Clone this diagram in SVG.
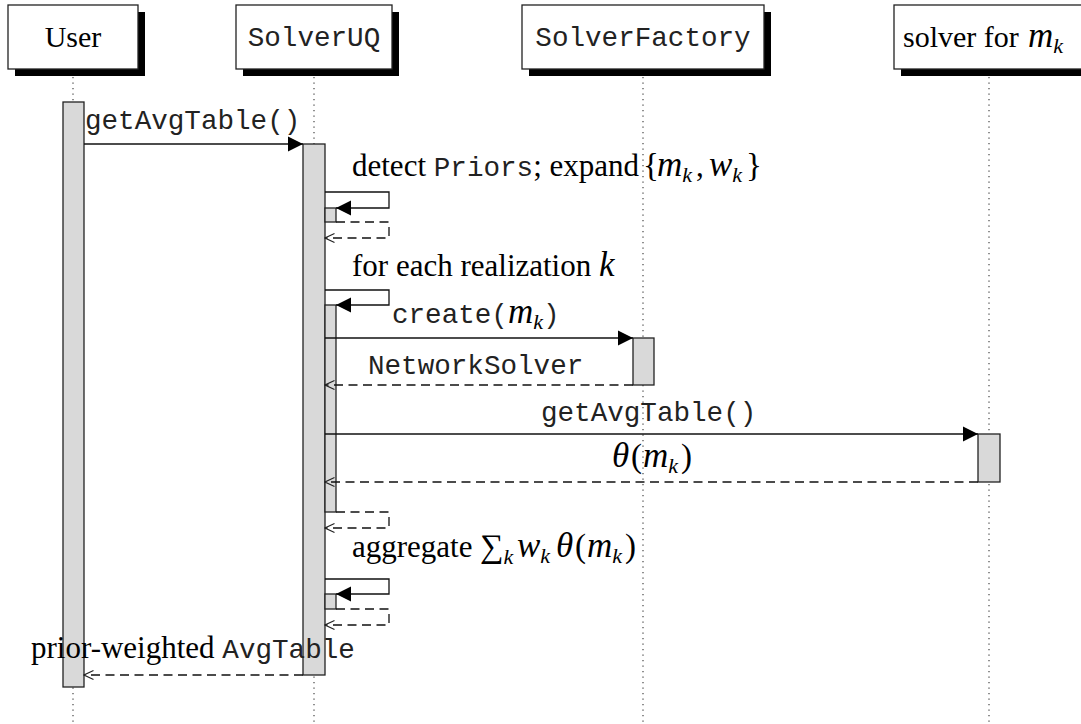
<svg xmlns="http://www.w3.org/2000/svg" width="1081" height="724" viewBox="0 0 1081 724">
  <style>
    .box { fill: #fff; stroke: #222; stroke-width: 1.3; }
    .shadow { fill: #000; }
    .life { stroke: #333; stroke-width: 1.1; stroke-dasharray: 1.2 4.3; fill: none; }
    .act { fill: #d9d9d9; stroke: #222; stroke-width: 1.3; }
    .call { fill: none; stroke: #111; stroke-width: 1.3; marker-end: url(#solid); }
    .ret { fill: none; stroke: #111; stroke-width: 1.3; stroke-dasharray: 9 5.5; marker-end: url(#open); }
    .rm { font-family: "Liberation Serif", "Times New Roman", serif; font-size: 31px; fill: #000; }
    .hd { font-size: 30px; }
    .tt { font-family: "Liberation Mono", "Courier New", monospace; font-size: 27.6px; fill: #222; }
    .mi { font-family: "Liberation Serif", "Times New Roman", serif; font-style: italic; font-size: 35px; fill: #000; }
    .sub { font-size: 22px; }
    .big { font-family: "Liberation Serif", "Times New Roman", serif; font-size: 33px; }
  </style>
  <defs>
    <marker id="solid" viewBox="0 0 16 16" refX="15" refY="8" markerWidth="16" markerHeight="16" markerUnits="userSpaceOnUse" orient="auto">
      <path d="M0,0.5 L15,8 L0,15.5 z" fill="#000"/>
    </marker>
    <marker id="open" viewBox="0 0 12 12" refX="11" refY="6" markerWidth="12" markerHeight="12" markerUnits="userSpaceOnUse" orient="auto">
      <path d="M1.5,1.5 L11,6 L1.5,10.5" fill="none" stroke="#222" stroke-width="1.1"/>
    </marker>
  </defs>

  <!-- lifelines -->
  <g id="lifelines">
    <line class="life" x1="73" y1="77" x2="73" y2="724"/>
    <line class="life" x1="314" y1="77" x2="314" y2="724"/>
    <line class="life" x1="643" y1="77" x2="643" y2="724"/>
    <line class="life" x1="989" y1="77" x2="989" y2="724"/>
  </g>

  <!-- participants -->
  <g id="user">
    <rect class="shadow" x="15" y="12" width="130" height="64"/>
    <rect class="box" x="8" y="5" width="130" height="64"/>
    <text class="rm hd" x="73" y="47" text-anchor="middle">User</text>
  </g>
  <g id="solveruq">
    <rect class="shadow" x="243" y="12" width="156" height="64"/>
    <rect class="box" x="236" y="5" width="156" height="64"/>
    <text class="tt" x="314" y="46" text-anchor="middle">SolverUQ</text>
  </g>
  <g id="solverfactory">
    <rect class="shadow" x="529" y="12" width="242" height="64"/>
    <rect class="box" x="522" y="5" width="242" height="64"/>
    <text class="tt" x="643" y="46" text-anchor="middle">SolverFactory</text>
  </g>
  <g id="solver-mk">
    <rect class="shadow" x="901" y="12" width="200" height="64"/>
    <rect class="box" x="894" y="5" width="200" height="64"/>
    <text class="rm hd" x="903" y="47">solver for <tspan class="mi" x="1028">m</tspan><tspan class="mi sub" dy="6">k</tspan></text>
  </g>

  <!-- activation bars -->
  <g id="activations">
    <rect class="act" x="63" y="102" width="21" height="585"/>
    <rect class="act" x="303" y="144" width="22" height="531"/>
    <rect class="act" x="325" y="208" width="11" height="14"/>
    <rect class="act" x="325" y="305" width="11" height="207"/>
    <rect class="act" x="325" y="594" width="11" height="15"/>
    <rect class="act" x="633" y="338" width="21" height="47"/>
    <rect class="act" x="978" y="434" width="22" height="48"/>
  </g>

  <!-- messages -->
  <g id="connectors">
    <path class="call" d="M84,144 H303"/>
    <path class="call" d="M325,192 H389 V208 H336"/>
    <path class="ret" d="M336,222 H389 V238 H325"/>
    <path class="call" d="M325,290 H389 V305 H336"/>
    <path class="call" d="M325,338 H633"/>
    <path class="ret" d="M633,385 H325"/>
    <path class="call" d="M325,434 H978"/>
    <path class="ret" d="M978,482 H325"/>
    <path class="ret" d="M336,512 H389 V528 H325"/>
    <path class="call" d="M325,579 H389 V594 H336"/>
    <path class="ret" d="M336,609 H389 V625 H325"/>
    <path class="ret" d="M303,675 H84"/>
  </g>

  <!-- message labels -->
  <g id="labels">
    <text class="tt" x="85" y="129">getAvgTable()</text>
    <text class="rm" x="352" y="176">detect <tspan class="tt">Priors</tspan>; expand<tspan class="big" x="643">{</tspan><tspan class="mi" x="657">m</tspan><tspan class="mi sub" dy="6">k</tspan><tspan dy="-6" x="696">,</tspan><tspan class="mi" x="709">w</tspan><tspan class="mi sub" dy="6">k</tspan><tspan class="big" dy="-6" x="746">}</tspan></text>
    <text class="rm" x="352" y="276">for each realization <tspan class="mi">k</tspan></text>
    <text class="tt" x="392" y="323">create(<tspan class="mi">m</tspan><tspan class="mi sub" dy="6">k</tspan><tspan dy="-6">)</tspan></text>
    <text class="tt" x="368" y="374">NetworkSolver</text>
    <text class="tt" x="541" y="421">getAvgTable()</text>
    <text class="rm" x="612" y="467"><tspan class="mi">θ</tspan><tspan class="big" x="631">(</tspan><tspan class="mi" x="643">m</tspan><tspan class="mi sub" dy="6">k</tspan><tspan class="big" dy="-6" x="681">)</tspan></text>
    <text class="rm" x="352" y="557">aggregate <tspan class="big" x="480" font-size="38">∑</tspan><tspan class="mi sub" dy="7">k</tspan><tspan class="mi" dy="-7" x="517">w</tspan><tspan class="mi sub" dy="6">k</tspan><tspan class="mi" dy="-6" x="556">θ</tspan><tspan class="big" x="575">(</tspan><tspan class="mi" x="587">m</tspan><tspan class="mi sub" dy="6">k</tspan><tspan class="big" dy="-6" x="625">)</tspan></text>
    <text class="rm" x="31" y="658">prior-weighted <tspan class="tt">AvgTable</tspan></text>
  </g>
</svg>
